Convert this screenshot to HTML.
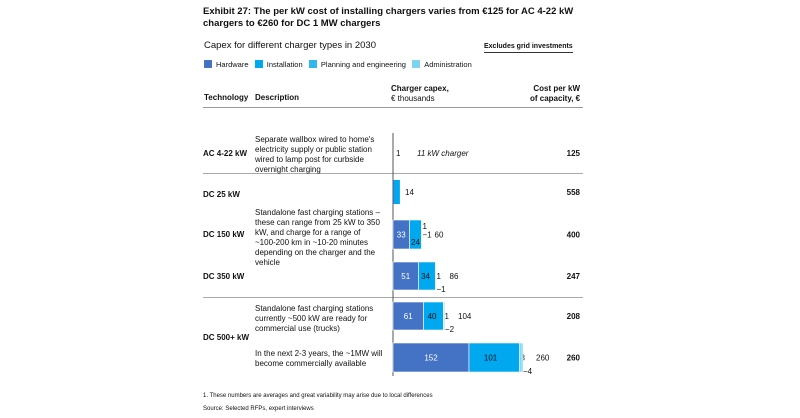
<!DOCTYPE html>
<html><head><meta charset="utf-8"><style>
body{margin:0;background:#fff;font-family:"Liberation Sans",sans-serif;color:#111}
#c{position:relative;width:800px;height:418px;overflow:hidden}
.t{position:absolute;font-size:8px;line-height:10px;white-space:nowrap}
.b{font-weight:bold}
.hl{position:absolute;height:1px;background:#aaa}
.sw{display:inline-block;width:8px;height:8px;vertical-align:-1px;margin-right:4px}
</style></head><body>
<div id="c">
<div class="t b" style="left:203px;top:6px;font-size:9.5px;line-height:12px">Exhibit 27: The per kW cost of installing chargers varies from €125 for AC 4-22 kW<br>chargers to €260 for DC 1 MW chargers</div>
<div class="t" style="left:204px;top:41px;font-size:9.5px">Capex for different charger types in 2030</div>
<div class="t b" style="left:484px;top:42px;font-size:7px;border-bottom:1px solid #333">Excludes grid investments</div>
<div class="t" style="left:204px;top:60px;font-size:7.5px">
<span><span class="sw" style="background:#4472C4"></span>Hardware</span>&nbsp;&nbsp;
<span><span class="sw" style="background:#00A8F0"></span>Installation</span>&nbsp;&nbsp;
<span><span class="sw" style="background:#30B8EE"></span>Planning and engineering</span>&nbsp;&nbsp;
<span><span class="sw" style="background:#7FD3F2"></span>Administration</span></div>
<div class="t b" style="left:204px;top:93px">Technology</div>
<div class="t b" style="left:255px;top:93px">Description</div>
<div class="t" style="left:391px;top:84px"><b>Charger capex,</b><br>€ thousands</div>
<div class="t b" style="left:533px;top:84px;text-align:right;width:50px;left:530px">Cost per kW<br>of capacity, €</div>
<div class="hl" style="left:203px;top:107px;width:380px;background:#999"></div>
<div class="hl" style="left:203px;top:173px;width:380px"></div>
<div class="hl" style="left:203px;top:297px;width:380px"></div>
<div class="t b" style="left:203px;top:149px">AC 4-22 kW</div>
<div class="t" style="left:255px;top:135px">Separate wallbox wired to home's<br>electricity supply or public station<br>wired to lamp post for curbside<br>overnight charging</div>
<div class="t" style="left:396px;top:149px">1</div>
<div class="t" style="left:417px;top:149px;font-style:italic">11 kW charger</div>
<div class="t b" style="left:203px;top:190px">DC 25 kW</div>
<div class="t b" style="left:203px;top:230px">DC 150 kW</div>
<div class="t b" style="left:203px;top:272px">DC 350 kW</div>
<div class="t b" style="left:203px;top:333px">DC 500+ kW</div>
<div class="t" style="left:255px;top:208px">Standalone fast charging stations –<br>these can range from 25 kW to 350<br>kW, and charge for a range of<br>~100-200 km in ~10-20 minutes<br>depending on the charger and the<br>vehicle</div>
<div class="t" style="left:255px;top:304px">Standalone fast charging stations<br>currently ~500 kW are ready for<br>commercial use (trucks)</div>
<div class="t" style="left:255px;top:349px">In the next 2-3 years, the ~1MW will<br>become commercially available</div>
<div class="t b" style="left:540px;top:149px;width:40px;text-align:right">125</div>
<svg id="s" width="800" height="418" style="position:absolute;left:0;top:0"></svg>
<div class="t" style="left:203px;top:391px;font-size:6px">1. These numbers are averages and great variability may arise due to local differences</div>
<div class="t" style="left:203px;top:404px;font-size:6px">Source: Selected RFPs, expert interviews</div>
</div>
<script>
const rows=["DC 25 kW","DC 150 kW","DC 350 kW","DC 500 kW","DC 1 MW"];
const hardware=[2,33,51,61,152];
const installation=[11,24,34,40,101];
const planning=[1,1,1,1,3];
const admin=[0,1,1,2,4];
const totals=[14,60,86,104,260];
const costPerKw=[558,400,247,208,260];
const rowTops=[180,220,262,302,343], rowH=[24,29,28,28,29];
const x0=393, k=0.5;
const X=v=>x0+v*k;
const s=document.getElementById('s'),NS='http://www.w3.org/2000/svg';
function el(t,a){const e=document.createElementNS(NS,t);for(const q in a)e.setAttribute(q,a[q]);s.appendChild(e);return e;}
function txt(x,y,str,fill,anchor,bold){const e=el('text',{x:x,y:y,'font-size':8,'font-family':'Liberation Sans, sans-serif',fill:fill,'text-anchor':anchor||'start','font-weight':bold?'bold':'normal'});e.textContent=str;return e;}
const ax=el('line',{x1:x0,y1:133,x2:x0,y2:376,stroke:'#555','stroke-width':1});


const cols=['#4472C4','#00A8F0','#30B8EE','#7FD3F2'];
rows.forEach((r,i)=>{
 const segs=[hardware[i],installation[i],planning[i],admin[i]];
 let acc=0;const y=rowTops[i],h=rowH[i];
 segs.forEach((v,j)=>{
  if(v<=0)return;
  const rc=el('rect',{x:X(acc),y:y,width:v*k,height:h,fill:cols[j],stroke:'#fff','stroke-width':i?0.6:0});
  
  
  if(i>0){
   if(j===0)txt(X(acc+v/2),y+h/2+3,String(v),'#fff','middle');
   if(j===1)txt(X(acc+v/2)+(i===1?0:3),i===1?y+h-4:y+h/2+3,String(v),'#111',i===1?'middle':'end');
   if(j===2)txt(X(acc)+1,i===1?y+9:y+h/2+3,String(v),'#111','start');
   if(j===3){txt(X(acc+v),i===1?y+h/2+3:y+h+2,'−'+v,'#111','start');}
  }
  acc+=v;
 });
 const tl=txt(X(acc)+(i===0?5:(i===1?12:13)),y+h/2+3,String(totals[i]),'#111','start');
 
 
 const cl=txt(580,y+h/2+3,String(costPerKw[i]),'#111','end',true);
 
 
});
</script>
</body></html>
